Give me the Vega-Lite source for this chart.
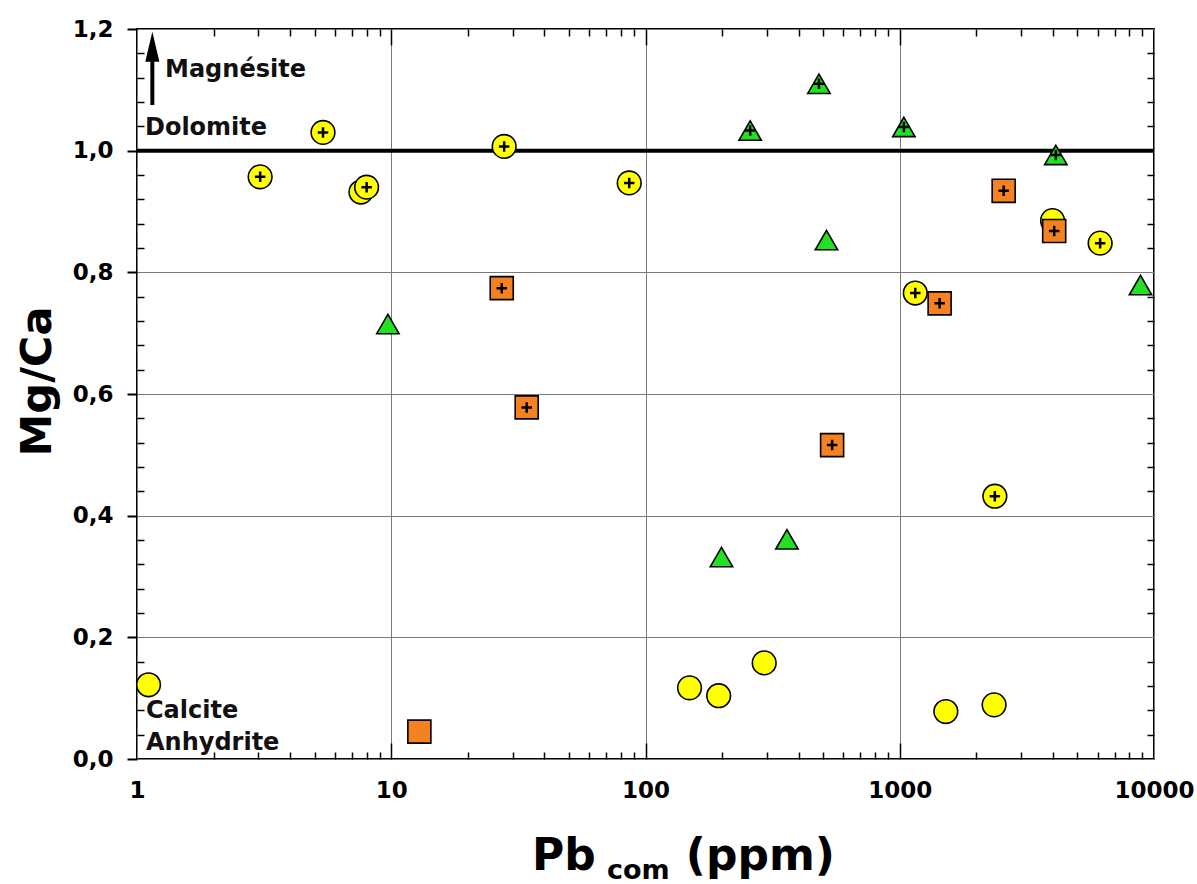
{
  "$schema": "https://vega.github.io/schema/vega-lite/v6.json",
  "width": 1017,
  "height": 730,
  "autosize": {"type": "none"},
  "padding": {"left": 137, "top": 29, "right": 43, "bottom": 125},
  "background": "#ffffff",
  "config": {
    "view": {"stroke": "#000000", "strokeWidth": 2},
    "font": "DejaVu Sans",
    "axis": {
      "domain": false,
      "grid": false,
      "labels": false,
      "tickColor": "#000000",
      "tickWidth": 1.5,
      "labelFont": "DejaVu Sans",
      "labelFontWeight": "bold",
      "labelFontSize": 23,
      "labelColor": "#000000"
    }
  },
  "datasets": {
    "points": [
      {"x": 5.39, "y": 1.030, "group": "yellow", "plus": true},
      {"x": 3.05, "y": 0.957, "group": "yellow", "plus": true},
      {"x": 7.6, "y": 0.932, "group": "yellow", "plus": false},
      {"x": 8.0, "y": 0.940, "group": "yellow", "plus": true},
      {"x": 27.8, "y": 1.007, "group": "yellow", "plus": true},
      {"x": 86.3, "y": 0.947, "group": "yellow", "plus": true},
      {"x": 1151, "y": 0.766, "group": "yellow", "plus": true},
      {"x": 3990, "y": 0.885, "group": "yellow", "plus": false},
      {"x": 6140, "y": 0.848, "group": "yellow", "plus": true},
      {"x": 2366, "y": 0.432, "group": "yellow", "plus": true},
      {"x": 1.11, "y": 0.122, "group": "yellow", "plus": false},
      {"x": 149, "y": 0.117, "group": "yellow", "plus": false},
      {"x": 194, "y": 0.104, "group": "yellow", "plus": false},
      {"x": 293, "y": 0.158, "group": "yellow", "plus": false},
      {"x": 1518, "y": 0.078, "group": "yellow", "plus": false},
      {"x": 2350, "y": 0.089, "group": "yellow", "plus": false},
      {"x": 27.2, "y": 0.774, "group": "orange", "plus": true},
      {"x": 34.1, "y": 0.578, "group": "orange", "plus": true},
      {"x": 542, "y": 0.516, "group": "orange", "plus": true},
      {"x": 1435, "y": 0.749, "group": "orange", "plus": true},
      {"x": 2563, "y": 0.934, "group": "orange", "plus": true},
      {"x": 4050, "y": 0.868, "group": "orange", "plus": true},
      {"x": 12.9, "y": 0.045, "group": "orange", "plus": false},
      {"x": 481, "y": 1.110, "group": "green", "plus": true},
      {"x": 258, "y": 1.033, "group": "green", "plus": true},
      {"x": 1038, "y": 1.039, "group": "green", "plus": true},
      {"x": 4110, "y": 0.993, "group": "green", "plus": true},
      {"x": 9.7, "y": 0.715, "group": "green", "plus": false},
      {"x": 515, "y": 0.853, "group": "green", "plus": false},
      {"x": 8850, "y": 0.779, "group": "green", "plus": false},
      {"x": 360, "y": 0.361, "group": "green", "plus": false},
      {"x": 199, "y": 0.332, "group": "green", "plus": false}
    ],
    "notes": [
      {"label": "Magnésite", "x": 1.289, "y": 1.133},
      {"label": "Dolomite", "x": 1.075, "y": 1.037},
      {"label": "Calcite", "x": 1.085, "y": 0.079},
      {"label": "Anhydrite", "x": 1.085, "y": 0.026}
    ],
    "arrow": [{"x": 1.149, "y": 1.075, "y2": 1.17}],
    "arrowhead": [{"x": 1.149, "y": 1.171}],
    "titleBig": [
      {"label": "Pb", "x": 35.8, "y": -0.1825},
      {"label": "(ppm)", "x": 144.1, "y": -0.1825}
    ],
    "titleSmall": [{"label": "com", "x": 70.5, "y": -0.197}]
  },
  "resolve": {"axis": {"x": "independent", "y": "independent"}},
  "layer": [
    {
      "data": {"values": [{"v": 1}]},
      "mark": {"type": "rule", "color": "#000000", "strokeWidth": 4},
      "encoding": {
        "y": {"field": "v", "type": "quantitative", "scale": {"domain": [0, 1.2], "nice": false, "zero": false}, "axis": null}
      }
    },
    {
      "data": {"name": "points"},
      "mark": {"type": "point", "filled": true, "stroke": "#000000", "strokeWidth": 1.6, "opacity": 1},
      "encoding": {
        "x": {
          "field": "x", "type": "quantitative",
          "scale": {"type": "log", "domain": [1, 10000], "nice": false},
          "axis": {
            "orient": "bottom", "values": [1, 10, 100, 1000, 10000], "format": "d",
            "labels": true, "labelFlush": false, "labelOverlap": false, "labelPadding": 20,
            "ticks": false, "grid": true, "gridColor": "#7a7a7a", "gridWidth": 1, "title": null
          }
        },
        "y": {
          "field": "y", "type": "quantitative",
          "scale": {"domain": [0, 1.2], "nice": false, "zero": false},
          "axis": {
            "orient": "left", "values": [0, 0.2, 0.4, 0.6, 0.8, 1, 1.2],
            "labelExpr": "replace(format(datum.value, '.1f'), '.', ',')",
            "labels": true, "labelFlush": false, "labelOverlap": false, "labelPadding": 14,
            "ticks": true, "tickSize": 10, "tickWidth": 2,
            "grid": true, "gridColor": "#7a7a7a", "gridWidth": 1,
            "title": "Mg/Ca", "titleFont": "DejaVu Sans", "titleFontWeight": "bold", "titleFontSize": 43,
            "titleColor": "#000000", "titleX": -87, "titleY": 352, "titleAngle": -90,
            "titleAlign": "center", "titleBaseline": "alphabetic"
          }
        },
        "shape": {"field": "group", "type": "nominal", "scale": {"domain": ["yellow", "orange", "green"], "range": ["circle", "square", "triangle-up"]}, "legend": null},
        "fill": {"field": "group", "type": "nominal", "scale": {"domain": ["yellow", "orange", "green"], "range": ["#FFFF00", "#F58220", "#22E022"]}, "legend": null},
        "size": {"field": "group", "type": "ordinal", "scale": {"domain": ["yellow", "orange", "green"], "range": [560, 500, 660]}, "legend": null}
      }
    },
    {
      "data": {"name": "points"},
      "transform": [{"filter": "datum.plus"}],
      "mark": {"type": "point", "shape": "M-1,0L1,0M0,-1L0,1", "size": 110, "filled": false, "stroke": "#000000", "strokeWidth": 2.5, "opacity": 1},
      "encoding": {
        "x": {
          "field": "x", "type": "quantitative",
          "scale": {"type": "log", "domain": [1, 10000], "nice": false},
          "axis": {
            "orient": "bottom",
            "values": [2, 3, 4, 5, 6, 7, 8, 9, 20, 30, 40, 50, 60, 70, 80, 90, 200, 300, 400, 500, 600, 700, 800, 900, 2000, 3000, 4000, 5000, 6000, 7000, 8000, 9000],
            "ticks": true, "tickSize": -7, "labels": false, "grid": false, "title": null
          }
        },
        "y": {
          "field": "y", "type": "quantitative",
          "scale": {"domain": [0, 1.2], "nice": false, "zero": false},
          "axis": {
            "orient": "left",
            "values": [0.04, 0.08, 0.12, 0.16, 0.24, 0.28, 0.32, 0.36, 0.44, 0.48, 0.52, 0.56, 0.64, 0.68, 0.72, 0.76, 0.84, 0.88, 0.92, 0.96, 1.04, 1.08, 1.12, 1.16],
            "ticks": true, "tickSize": -7, "labels": false, "grid": false, "title": null
          }
        }
      }
    },
    {
      "data": {"name": "notes"},
      "mark": {"type": "text", "align": "left", "baseline": "middle", "font": "DejaVu Sans", "fontWeight": "bold", "fontSize": 24, "color": "#111111"},
      "encoding": {
        "text": {"field": "label", "type": "nominal"},
        "x": {
          "field": "x", "type": "quantitative",
          "scale": {"type": "log", "domain": [1, 10000], "nice": false},
          "axis": {"orient": "bottom", "values": [10, 100, 1000], "ticks": true, "tickSize": -16, "labels": false, "grid": false, "title": null}
        },
        "y": {
          "field": "y", "type": "quantitative",
          "scale": {"domain": [0, 1.2], "nice": false, "zero": false},
          "axis": {
            "orient": "right",
            "values": [0.04, 0.08, 0.12, 0.16, 0.24, 0.28, 0.32, 0.36, 0.44, 0.48, 0.52, 0.56, 0.64, 0.68, 0.72, 0.76, 0.84, 0.88, 0.92, 0.96, 1.04, 1.08, 1.12, 1.16],
            "ticks": true, "tickSize": -7, "labels": false, "grid": false, "title": null
          }
        }
      }
    },
    {
      "data": {"name": "arrow"},
      "mark": {"type": "rule", "color": "#000000", "strokeWidth": 4},
      "encoding": {
        "x": {
          "field": "x", "type": "quantitative",
          "scale": {"type": "log", "domain": [1, 10000], "nice": false},
          "axis": {
            "orient": "top",
            "values": [2, 3, 4, 5, 6, 7, 8, 9, 20, 30, 40, 50, 60, 70, 80, 90, 200, 300, 400, 500, 600, 700, 800, 900, 2000, 3000, 4000, 5000, 6000, 7000, 8000, 9000],
            "ticks": true, "tickSize": -7, "labels": false, "grid": false, "title": null
          }
        },
        "y": {"field": "y", "type": "quantitative", "scale": {"domain": [0, 1.2], "nice": false, "zero": false}, "axis": null},
        "y2": {"field": "y2"}
      }
    },
    {
      "data": {"name": "arrowhead"},
      "mark": {"type": "point", "shape": "M0,-1L-0.47,1L0.47,1Z", "size": 900, "filled": true, "fill": "#000000", "strokeWidth": 0, "opacity": 1},
      "encoding": {
        "x": {
          "field": "x", "type": "quantitative",
          "scale": {"type": "log", "domain": [1, 10000], "nice": false},
          "axis": {"orient": "top", "values": [10, 100, 1000], "ticks": true, "tickSize": -16, "labels": false, "grid": false, "title": null}
        },
        "y": {"field": "y", "type": "quantitative", "scale": {"domain": [0, 1.2], "nice": false, "zero": false}, "axis": null}
      }
    },
    {
      "data": {"name": "titleBig"},
      "mark": {"type": "text", "align": "left", "baseline": "alphabetic", "font": "DejaVu Sans", "fontWeight": "bold", "fontSize": 44, "color": "#000000"},
      "encoding": {
        "text": {"field": "label", "type": "nominal"},
        "x": {"field": "x", "type": "quantitative", "scale": {"type": "log", "domain": [1, 10000], "nice": false}, "axis": null},
        "y": {"field": "y", "type": "quantitative", "scale": {"domain": [0, 1.2], "nice": false, "zero": false}, "axis": null}
      }
    },
    {
      "data": {"name": "titleSmall"},
      "mark": {"type": "text", "align": "left", "baseline": "alphabetic", "font": "DejaVu Sans", "fontWeight": "bold", "fontSize": 27, "color": "#000000"},
      "encoding": {
        "text": {"field": "label", "type": "nominal"},
        "x": {"field": "x", "type": "quantitative", "scale": {"type": "log", "domain": [1, 10000], "nice": false}, "axis": null},
        "y": {"field": "y", "type": "quantitative", "scale": {"domain": [0, 1.2], "nice": false, "zero": false}, "axis": null}
      }
    }
  ]
}
